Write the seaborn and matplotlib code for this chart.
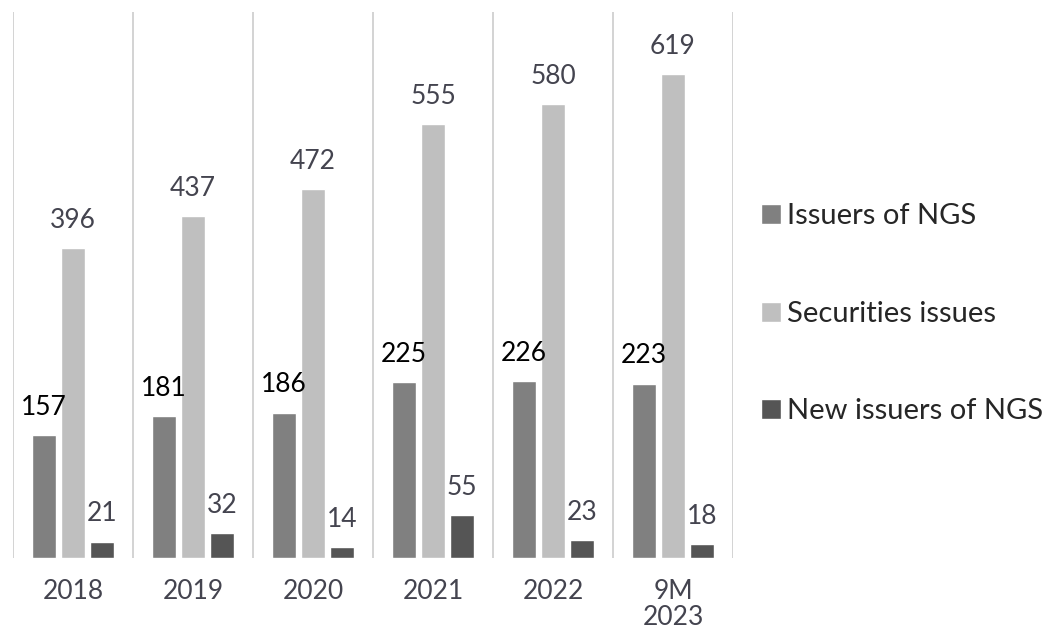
import pandas as pd
import matplotlib.pyplot as plt
import seaborn as sns

# Data
years = ['2018', '2019', '2020', '2021', '2022', '9M\n2023']
issuers = [157, 181, 186, 225, 226, 223]
securities = [396, 437, 472, 555, 580, 619]
new_issuers = [21, 32, 14, 55, 23, 18]
series_names = ['Issuers of NGS', 'Securities issues', 'New issuers of NGS']

df = pd.DataFrame({
    'year': years * 3,
    'value': issuers + securities + new_issuers,
    'series': [series_names[0]] * 6 + [series_names[1]] * 6 + [series_names[2]] * 6,
})

sns.set_style("white")
plt.rcParams['font.family'] = ['Lato', 'DejaVu Sans']

palette = ['#808080', '#bfbfbf', '#555555']
label_colors = ['black', '#44444f', '#44444f']

fig = plt.figure(figsize=(10.56, 6.33), dpi=100)
ax = fig.add_axes([0.0123, 0.1185, 0.6818, 0.8625])

sns.barplot(data=df, x='year', y='value', hue='series', palette=palette,
            width=0.72, gap=0.17, saturation=1, ax=ax)

for cont, col in zip(ax.containers, label_colors):
    ax.bar_label(cont, padding=11, fontsize=19, color=col)

# separators between categories
for x in [i - 0.5 for i in range(len(years) + 1)]:
    ax.axvline(x, color='#cccccc', lw=1.2)

ax.set_xlim(-0.5, len(years) - 0.5)
ax.set_ylim(0, 698)
ax.set_yticks([])
ax.set_xlabel('')
ax.set_ylabel('')
for s in ax.spines.values():
    s.set_visible(False)
ax.tick_params(axis='x', length=0, labelsize=19, labelcolor='#44444f', pad=15)
for t in ax.get_xticklabels():
    t.set_linespacing(1.05)

ax.legend(loc='center left', bbox_to_anchor=(1.018, 0.447), frameon=False,
          fontsize=21, handlelength=0.7, handleheight=0.7, handletextpad=0.2,
          labelspacing=2.45, borderaxespad=0.3, borderpad=0.2)

plt.savefig('out.png', dpi=100)
